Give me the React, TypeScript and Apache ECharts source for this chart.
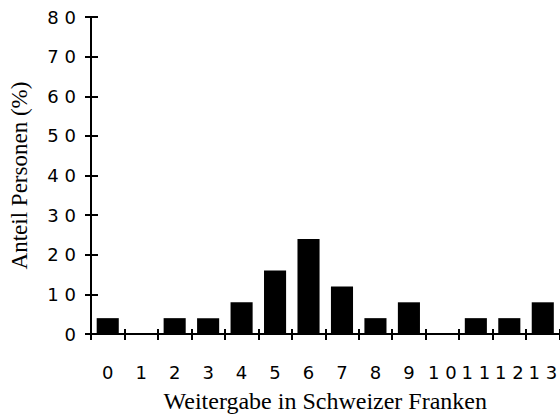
import React, { useEffect, useRef } from "react";
import * as echarts from "echarts";

const categories = ["0", "1", "2", "3", "4", "5", "6", "7", "8", "9", "10", "11", "12", "13"];
const shares = [4, 0, 4, 4, 8, 16, 24, 12, 4, 8, 0, 4, 4, 8];
const yMin = 0;
const yMax = 80;
const yStep = 10;
const xTitle = "Weitergabe in Schweizer Franken";
const yTitle = "Anteil Personen (%)";

const spaced = (v: string | number) => String(v).split("").join(" ");

export default function App() {
  const ref = useRef<HTMLDivElement>(null);
  useEffect(() => {
    if (!ref.current) return;
    const chart = echarts.init(ref.current, null, { renderer: "svg" });
    const tickFont = { fontFamily: "DejaVu Sans", fontSize: 18, color: "#000" };
    chart.setOption({
      animation: false,
      backgroundColor: "#fff",
      grid: { left: 91, right: -2, top: 17, bottom: 86 },
      xAxis: [
        {
          type: "category",
          data: categories,
          boundaryGap: true,
          axisLine: { show: true, lineStyle: { color: "#000", width: 2 } },
          axisTick: { show: true, inside: false, length: 6, lineStyle: { color: "#000", width: 2 } },
          axisLabel: { ...tickFont, interval: 0, margin: 29, formatter: (v: string) => spaced(v) },
          splitLine: { show: false },
          name: xTitle,
          nameLocation: "middle",
          nameGap: 55,
          nameTextStyle: { fontFamily: "Liberation Serif", fontSize: 24, color: "#000" },
        },
        {
          type: "category",
          data: categories,
          position: "bottom",
          boundaryGap: true,
          axisLine: { show: false },
          axisTick: { show: true, inside: true, length: 5, lineStyle: { color: "#000", width: 2 } },
          axisLabel: { show: false },
          splitLine: { show: false },
        },
      ],
      yAxis: [
        {
          type: "value",
          min: yMin,
          max: yMax,
          interval: yStep,
          axisLine: { show: true, lineStyle: { color: "#000", width: 2 } },
          axisTick: { show: true, inside: false, length: 6, lineStyle: { color: "#000", width: 2 } },
          axisLabel: { ...tickFont, margin: 15, formatter: (v: number) => spaced(v) },
          splitLine: { show: false },
          name: yTitle,
          nameLocation: "middle",
          nameGap: 60,
          nameRotate: 90,
          nameTextStyle: { fontFamily: "Liberation Serif", fontSize: 23, color: "#000" },
        },
        {
          type: "value",
          position: "left",
          min: yMin,
          max: yMax,
          interval: yStep,
          axisLine: { show: false },
          axisTick: { show: true, inside: true, length: 7, lineStyle: { color: "#000", width: 2 } },
          axisLabel: { show: false },
          splitLine: { show: false },
        },
      ],
      series: [
        {
          type: "bar",
          data: shares,
          xAxisIndex: 0,
          yAxisIndex: 0,
          barCategoryGap: "34%",
          itemStyle: { color: "#000" },
        },
      ],
    });
    return () => chart.dispose();
  }, []);
  return <div ref={ref} style={{ width: 560, height: 420, position: "absolute", left: 0, top: 0 }} />;
}
